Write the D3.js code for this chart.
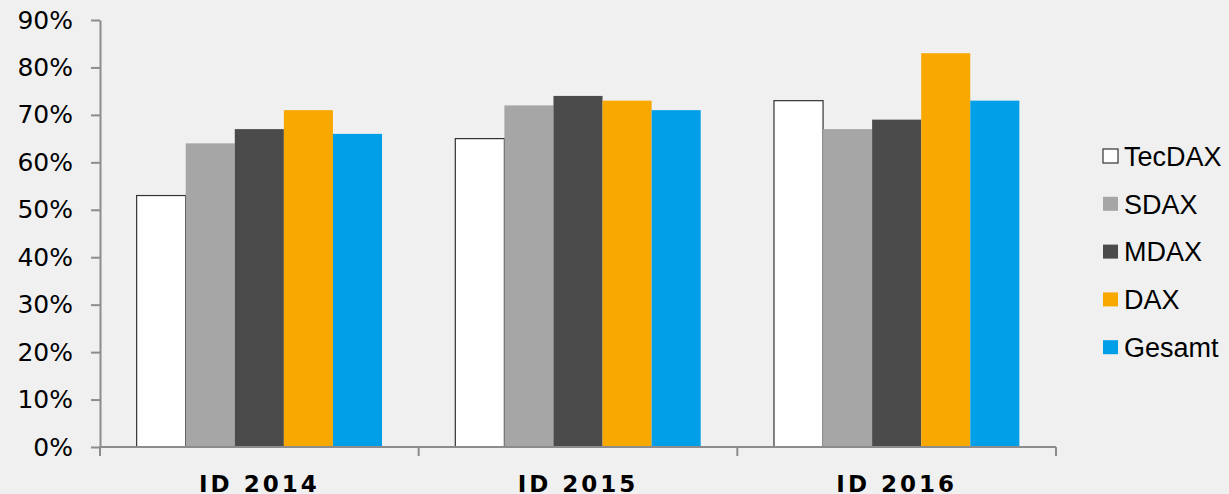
<!DOCTYPE html>
<html>
<head>
<meta charset="utf-8">
<script src="https://cdn.jsdelivr.net/npm/d3@7"></script>
<style>
  body { margin: 0; background: #f0f0f0; }
  svg { display: block; }
</style>
</head>
<body>
<script>
// chart data
const years = ["ID 2014", "ID 2015", "ID 2016"];
const indices = ["TecDAX", "SDAX", "MDAX", "DAX", "Gesamt"];
const tecdax = [53, 65, 73];
const sdax = [64, 72, 67];
const mdax = [67, 74, 69];
const dax = [71, 73, 83];
const gesamt = [66, 71, 73];
const yTicks = [0, 10, 20, 30, 40, 50, 60, 70, 80, 90];
const colors = ["#ffffff", "#a6a6a6", "#4b4b4b", "#f9a800", "#009fe8"];

const series = [tecdax, sdax, mdax, dax, gesamt];

const width = 1229, height = 494;
const margin = { left: 100, right: 173, top: 20, bottom: 47 };

const svg = d3.select("body").append("svg")
  .attr("width", width)
  .attr("height", height);

const x0 = d3.scaleBand()
  .domain(years)
  .range([margin.left, width - margin.right])
  .paddingInner(0.23)
  .paddingOuter(0.115);

const x1 = d3.scaleBand()
  .domain(indices)
  .range([0, x0.bandwidth()]);

const y = d3.scaleLinear()
  .domain([0, 90])
  .range([height - margin.bottom, margin.top]);

// bars
const groups = svg.append("g")
  .selectAll("g")
  .data(years)
  .join("g")
  .attr("transform", d => `translate(${x0(d)},0)`);

groups.selectAll("rect")
  .data((d, i) => indices.map((k, j) => ({ key: k, value: series[j][i], color: colors[j] })))
  .join("rect")
  .attr("x", d => x1(d.key))
  .attr("y", d => y(d.value))
  .attr("width", x1.bandwidth())
  .attr("height", d => y(0) - y(d.value))
  .attr("fill", d => d.color)
  .attr("stroke", d => d.key == "TecDAX" ? "#333" : "none")
  .attr("stroke-width", 1.2);

// y axis
const yAxis = svg.append("g")
  .attr("transform", `translate(${margin.left},0)`)
  .call(d3.axisLeft(y).tickValues(yTicks).tickFormat(d => d + "%").tickSize(9).tickSizeOuter(0).tickPadding(18));
yAxis.select(".domain").attr("stroke", "#8c8c8c").attr("stroke-width", 2);
yAxis.selectAll(".tick line").attr("stroke", "#8c8c8c").attr("stroke-width", 2);
yAxis.selectAll(".tick text")
  .attr("fill", "#000")
  .style("font-family", "'DejaVu Sans', sans-serif")
  .style("font-size", "25px");

// x axis (ticks between categories)
const xLine = svg.append("g");
const xEdges = [margin.left].concat(years.map(d => x0(d) + x0.bandwidth() + x0.step() * x0.paddingInner() / 2));
xEdges[xEdges.length - 1] = width - margin.right;
xLine.append("line")
  .attr("x1", margin.left).attr("x2", width - margin.right)
  .attr("y1", y(0)).attr("y2", y(0))
  .attr("stroke", "#8c8c8c").attr("stroke-width", 2);
xLine.selectAll(".xt")
  .data(xEdges)
  .join("line")
  .attr("x1", d => d).attr("x2", d => d)
  .attr("y1", y(0)).attr("y2", y(0) + 9)
  .attr("stroke", "#8c8c8c").attr("stroke-width", 2);

svg.append("g")
  .selectAll("text")
  .data(years)
  .join("text")
  .attr("x", d => x0(d) + x0.bandwidth() / 2)
  .attr("y", 492)
  .attr("text-anchor", "middle")
  .style("font-family", "'DejaVu Sans', sans-serif")
  .style("font-weight", "bold")
  .style("font-size", "23px")
  .style("letter-spacing", "3px")
  .text(d => d);

// legend
const legend = svg.append("g")
  .attr("transform", "translate(1103,156)")
  .selectAll("g")
  .data(indices)
  .join("g")
  .attr("transform", (d, i) => `translate(0,${i * 47.8})`);

legend.append("rect")
  .attr("x", 0).attr("y", -7)
  .attr("width", 15).attr("height", 14)
  .attr("fill", (d, i) => colors[i])
  .attr("stroke", d => d == "TecDAX" ? "#333" : "none")
  .attr("stroke-width", 1.2);

legend.append("text")
  .attr("x", 21)
  .attr("dy", "0.36em")
  .style("font-family", "'Liberation Sans', Arial, sans-serif")
  .style("font-size", "27px")
  .text(d => d);
</script>
</body>
</html>
